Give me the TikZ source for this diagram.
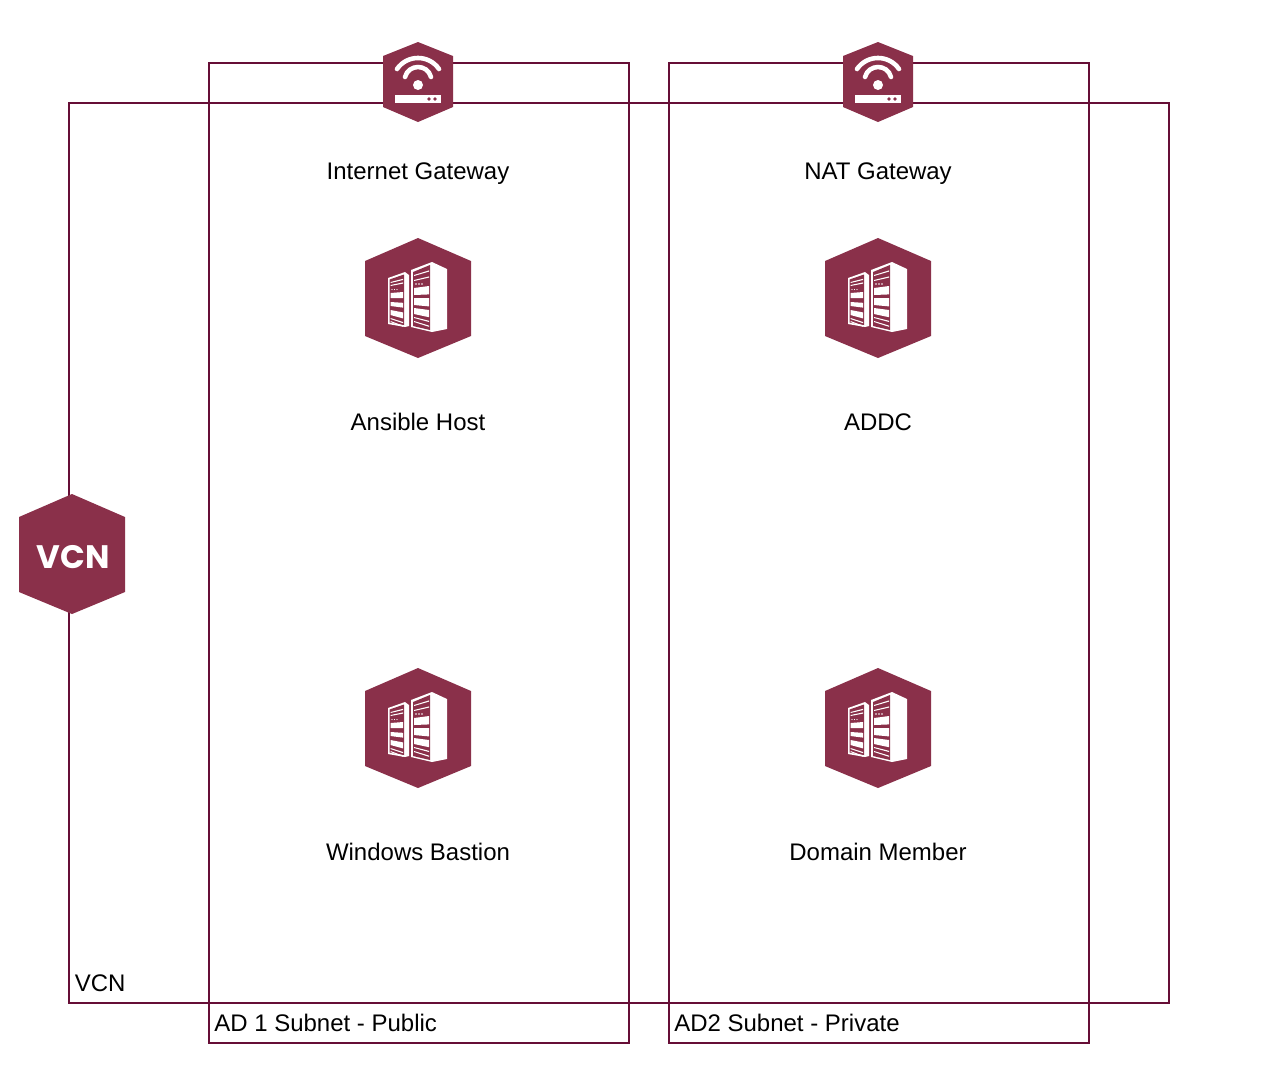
\documentclass[tikz,border=0pt]{standalone}
\usepackage{fontspec}
\setmainfont{Liberation Sans}
\newfontfamily\hexfont{Poppins}
\usetikzlibrary{positioning}
\definecolor{linemaroon}{HTML}{660E36}
\definecolor{hexmaroon}{HTML}{8A304A}
\tikzset{
	boxline/.style={draw=linemaroon, line width=1.15pt},
	lbl/.style={inner sep=0pt, text height=9.8pt, text depth=3.2pt, font=\fontsize{13.65}{16}\selectfont},
	hexfill/.style={fill=hexmaroon},
	whitefill/.style={fill=white},
	wifiarc/.style={draw=white, line width=2.6pt, line cap=round},
	gatewayhex/.pic={
		\fill [hexfill] (0,-40) -- (35,-26) -- (35,25) -- (0,40) -- (-35,25) -- (-35,-26) -- cycle;
		\draw [wifiarc] (-21,-13) .. controls (-10.8,-27.7) and (10.8,-27.7) .. (21,-13);
		\draw [wifiarc] (-13,-5) .. controls (-9.5,-18.3) and (9.5,-18.3) .. (13,-5);
		\fill [whitefill] (0,3) circle [radius=5];
		\fill [whitefill] (-23,12.5) rectangle (23,21);
		\fill [hexfill] (11,17) circle [radius=1.9];
		\fill [hexfill] (17,17) circle [radius=1.9];
	},
	serverhex/.pic={
		\fill [hexfill] (0,-60) -- (53,-37) -- (53,38) -- (0,60) -- (-53,38) -- (-53,-37) -- cycle;
		% left rack
		\fill [whitefill] (-30,-20) -- (-13,-26) -- (-9,-23) -- (-9,28) -- (-13,29) -- (-30,26) -- cycle;
		\fill [hexfill] (-28.5,-18.5) -- (-14,-23.5) -- (-14,27) -- (-28.5,24.5) -- cycle;
		\foreach \ya/\yb in {-16/-15,-13/-12,-5/0,4/8,12/17,20/21,23/24}
			\fill [whitefill] (-27.5,\ya) -- (-15,1.2*\ya) -- (-15,1.2*\yb) -- (-27.5,\yb) -- cycle;
		\foreach \xa in {-26,-23.5,-21}
			\fill [whitefill] (\xa,-8.5) circle [radius=0.7];
		% right rack
		\fill [whitefill] (-7,-28) -- (14,-36) -- (29,-29) -- (29,31) -- (14,34) -- (-7,29) -- cycle;
		\fill [hexfill] (-5,-26) -- (12,-33) -- (12,32) -- (-5,28) -- cycle;
		\foreach \ya/\yb in {-23/-22,-18/-17,-10/-3,0/7,10/16,19/20,23/24}
			\fill [whitefill] (-4,\ya) -- (11,1.2*\ya) -- (11,1.2*\yb) -- (-4,\yb) -- cycle;
		\foreach \xa in {-2,1,4}
			\fill [whitefill] (\xa,-14) circle [radius=0.8];
	},
	vcnhex/.pic={
		\fill [hexfill] (0,-60) -- (53,-37) -- (53,38) -- (0,60) -- (-53,38) -- (-53,-37) -- cycle;
	}
}
\begin{document}
\begin{tikzpicture}[x=0.02cm, y=-0.02cm]
	\useasboundingbox (0,0) rectangle (1270,1090);
	
	\draw [boxline] (69,103) rectangle (1169,1003);
	\draw [boxline] (209,63) rectangle (629,1043);
	\draw [boxline] (669,63) rectangle (1089,1043);
	
	\pic at (418,82) {gatewayhex};
	\pic at (878,82) {gatewayhex};
	\pic at (418,298) {serverhex};
	\pic at (878,298) {serverhex};
	\pic at (418,728) {serverhex};
	\pic at (878,728) {serverhex};
	\pic at (72,554) {vcnhex};
	
	\node [text=white, inner sep=0pt] at (73,557) (VCNicon) {\fontsize{18.5}{24}\hexfont\bfseries VCN};
	
	\node [lbl] at (418,174) (IGW) {Internet Gateway};
	\node [lbl] at (878,174) (NAT) {NAT Gateway};
	\node [lbl, below=4.54cm of IGW] (ANS) {Ansible Host};
	\node [lbl, below=4.54cm of NAT] (ADDC) {ADDC};
	\node [lbl, below=8.14cm of ANS] (WIN) {Windows Bastion};
	\node [lbl, below=8.14cm of ADDC] (DOM) {Domain Member};
	
	\node [lbl, anchor=west] at (74.5,986) (VCNlabel) {VCN};
	\node [lbl, anchor=west] at (214,1026) (AD1) {AD 1 Subnet - Public};
	\node [lbl, anchor=west] at (674,1026) (AD2) {AD2 Subnet - Private};
	
\end{tikzpicture}
\end{document}
